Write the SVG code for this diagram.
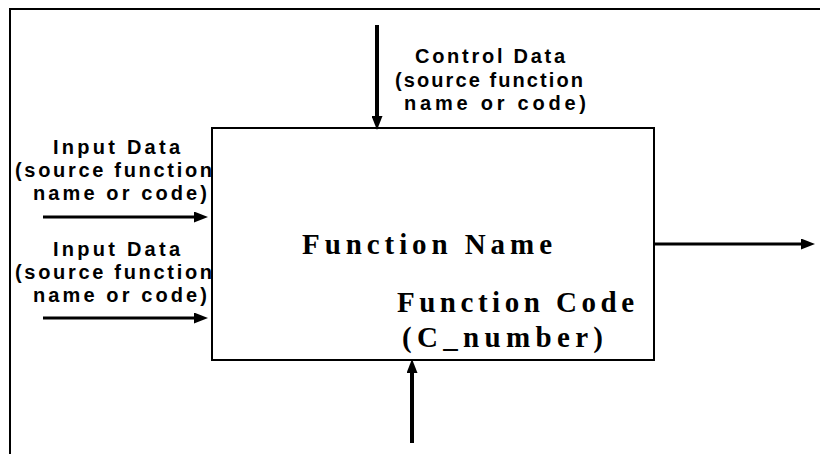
<svg xmlns="http://www.w3.org/2000/svg" width="820" height="454" viewBox="0 0 820 454">
  <style>
    .frame { fill: none; stroke: #000; stroke-width: 2; }
    .box { fill: #fff; stroke: #000; stroke-width: 2; }
    .flow { fill: none; stroke: #000; stroke-width: 3; marker-end: url(#head); }
    .flow-v { stroke-width: 4; }
    .lbl { font-family: "Liberation Sans", Arial, sans-serif; font-weight: bold; font-size: 20px; fill: #000; }
    .fn { font-family: "Liberation Serif", "Times New Roman", serif; font-weight: bold; font-size: 29px; fill: #000; }
  </style>
  <defs>
    <marker id="head" markerUnits="userSpaceOnUse" markerWidth="14" markerHeight="11" refX="6" refY="5.5" orient="auto">
      <path d="M0,0 L14,5.5 L0,11 z" fill="#000"/>
    </marker>
  </defs>
  <rect width="820" height="454" fill="#fff"/>

  <!-- page frame (left and top edges) -->
  <path class="frame" d="M10,454 V9 H820"/>

  <!-- activity box -->
  <g id="function-box">
    <rect class="box" x="212" y="128" width="442" height="232"/>
    <text class="fn" x="302" y="254" textLength="250" lengthAdjust="spacing">Function Name</text>
    <text class="fn" x="397" y="312" textLength="237" lengthAdjust="spacing">Function Code</text>
    <text class="fn" x="402" y="347" textLength="201" lengthAdjust="spacing">(C_number)</text>
  </g>

  <!-- arrow labels -->
  <g id="control-label">
    <text class="lbl" x="415" y="63" textLength="150" lengthAdjust="spacing">Control Data</text>
    <text class="lbl" x="395" y="87" textLength="188" lengthAdjust="spacing">(source function</text>
    <text class="lbl" x="404" y="110" textLength="182" lengthAdjust="spacing">name or code)</text>
  </g>
  <g id="input-label-1">
    <text class="lbl" x="53" y="154" textLength="127" lengthAdjust="spacing">Input Data</text>
    <text class="lbl" x="15" y="177" textLength="197" lengthAdjust="spacing">(source function</text>
    <text class="lbl" x="33" y="200" textLength="174" lengthAdjust="spacing">name or code)</text>
  </g>
  <g id="input-label-2">
    <text class="lbl" x="53" y="256" textLength="127" lengthAdjust="spacing">Input Data</text>
    <text class="lbl" x="15" y="279" textLength="197" lengthAdjust="spacing">(source function</text>
    <text class="lbl" x="33" y="302" textLength="174" lengthAdjust="spacing">name or code)</text>
  </g>

  <!-- connectors -->
  <g id="connectors">
    <line class="flow flow-v" x1="377" y1="25" x2="377" y2="122"/>
    <line class="flow" x1="43" y1="217" x2="200" y2="217"/>
    <line class="flow" x1="43" y1="318" x2="200" y2="318"/>
    <line class="flow" x1="655" y1="244" x2="807" y2="244"/>
    <line class="flow flow-v" x1="412" y1="443" x2="412" y2="367"/>
  </g>
</svg>
